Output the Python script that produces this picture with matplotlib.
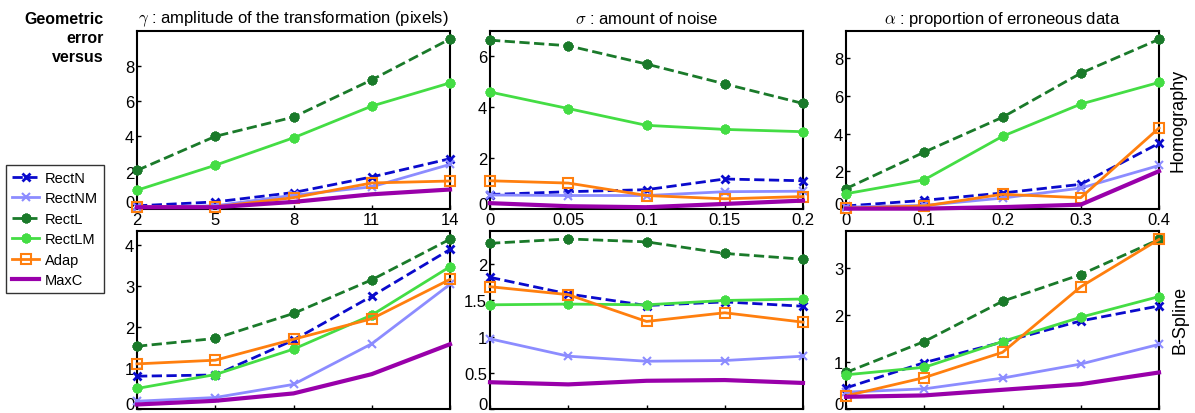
import matplotlib.pyplot as plt
import matplotlib
import numpy as np
from matplotlib.ticker import FormatStrFormatter

matplotlib.rcParams['font.family'] = ['Liberation Sans', 'DejaVu Sans']
matplotlib.rcParams['mathtext.fontset'] = 'cm'

# x values of the three studies
gamma = [2, 5, 8, 11, 14]
sigma = [0, 0.05, 0.1, 0.15, 0.2]
alpha = [0, 0.1, 0.2, 0.3, 0.4]

methods = ['RectN', 'RectNM', 'RectL', 'RectLM', 'Adap', 'MaxC']

# Homography (top row)
homo_gamma = {
    'RectN':  [0.08, 0.30, 0.83, 1.71, 2.74],
    'RectNM': [0.02, 0.08, 0.68, 1.15, 2.42],
    'RectL':  [2.08, 4.00, 5.09, 7.19, 9.50],
    'RectLM': [0.96, 2.37, 3.92, 5.71, 7.02],
    'Adap':   [0.02, 0.02, 0.54, 1.37, 1.48],
    'MaxC':   [0.00, 0.00, 0.30, 0.73, 1.00],
}
homo_sigma = {
    'RectN':  [0.57, 0.68, 0.76, 1.18, 1.11],
    'RectNM': [0.55, 0.53, 0.53, 0.68, 0.70],
    'RectL':  [6.64, 6.42, 5.70, 4.92, 4.15],
    'RectLM': [4.60, 3.95, 3.29, 3.13, 3.04],
    'Adap':   [1.11, 1.02, 0.53, 0.40, 0.49],
    'MaxC':   [0.23, 0.11, 0.07, 0.20, 0.33],
}
homo_alpha = {
    'RectN':  [0.16, 0.46, 0.85, 1.31, 3.49],
    'RectNM': [0.10, 0.19, 0.58, 1.11, 2.31],
    'RectL':  [1.08, 3.02, 4.87, 7.21, 9.01],
    'RectLM': [0.81, 1.55, 3.86, 5.57, 6.72],
    'Adap':   [0.05, 0.16, 0.78, 0.60, 4.30],
    'MaxC':   [0.02, 0.02, 0.10, 0.23, 2.01],
}

# B-Spline (bottom row)
bspl_gamma = {
    'RectN':  [0.80, 0.83, 1.68, 2.75, 3.89],
    'RectNM': [0.19, 0.28, 0.60, 1.59, 3.04],
    'RectL':  [1.53, 1.72, 2.33, 3.15, 4.14],
    'RectLM': [0.50, 0.84, 1.46, 2.29, 3.47],
    'Adap':   [1.10, 1.19, 1.70, 2.20, 3.16],
    'MaxC':   [0.11, 0.20, 0.38, 0.85, 1.58],
}
bspl_sigma = {
    'RectN':  [1.82, 1.59, 1.43, 1.48, 1.42],
    'RectNM': [0.97, 0.73, 0.66, 0.67, 0.73],
    'RectL':  [2.29, 2.35, 2.31, 2.15, 2.07],
    'RectLM': [1.44, 1.45, 1.44, 1.50, 1.52],
    'Adap':   [1.69, 1.58, 1.21, 1.33, 1.20],
    'MaxC':   [0.37, 0.34, 0.39, 0.40, 0.36],
}
bspl_alpha = {
    'RectN':  [0.45, 0.99, 1.43, 1.88, 2.20],
    'RectNM': [0.36, 0.43, 0.66, 0.96, 1.38],
    'RectL':  [0.78, 1.44, 2.30, 2.87, 3.62],
    'RectLM': [0.73, 0.89, 1.44, 1.96, 2.40],
    'Adap':   [0.28, 0.67, 1.21, 2.61, 3.62],
    'MaxC':   [0.26, 0.29, 0.41, 0.53, 0.78],
}

asterisk = (8, 2, 0)
styles = {
    'RectN':  dict(color='#0a0acc', ls='--', lw=2, marker='x', ms=6, mew=2),
    'RectNM': dict(color='#8c8cff', ls='-', lw=2, marker='x', ms=6, mew=1.5),
    'RectL':  dict(color='#1a7a2a', ls='--', lw=2, marker=asterisk, ms=7, mew=2.2),
    'RectLM': dict(color='#44dd44', ls='-', lw=2, marker=asterisk, ms=7, mew=2.2),
    'Adap':   dict(color='#ff7f0e', ls='-', lw=2, marker='s', ms=7, mew=1.5, mfc='none'),
    'MaxC':   dict(color='#9900aa', ls='-', lw=3),
}

fig = plt.figure(figsize=(11.95, 4.14), dpi=100)

lefts = [137/1195, 490/1195, 846/1195]
w = 313/1195
h = 178/414
bottoms = [1 - 210/414, 1 - 410/414]

panels = [
    [(gamma, homo_gamma), (sigma, homo_sigma), (alpha, homo_alpha)],
    [(gamma, bspl_gamma), (sigma, bspl_sigma), (alpha, bspl_alpha)],
]
ylims = [[(-0.1, 9.95), (0, 7.0), (0, 9.45)],
         [(0, 4.34), (0, 2.46), (0.02, 3.8)]]
yticks = [[[0, 2, 4, 6, 8], [0, 2, 4, 6], [0, 2, 4, 6, 8]],
          [[0, 1, 2, 3, 4], [0, 0.5, 1, 1.5, 2], [0, 1, 2, 3]]]
titles = [r'$\gamma$ : amplitude of the transformation (pixels)',
          r'$\sigma$ : amount of noise',
          r'$\alpha$ : proportion of erroneous data']

handles = {}
for r in range(2):
    for c in range(3):
        ax = fig.add_axes([lefts[c], bottoms[r], w, h])
        xs, data = panels[r][c]
        for m in methods:
            line, = ax.plot(xs, data[m], clip_on=False, zorder=3, **styles[m])
            handles[m] = line
        ax.set_xlim(xs[0], xs[-1])
        ax.set_ylim(*ylims[r][c])
        ax.set_xticks(xs)
        ax.set_yticks(yticks[r][c])
        ax.yaxis.set_major_formatter(FormatStrFormatter('%g'))
        ax.xaxis.set_major_formatter(FormatStrFormatter('%g'))
        ax.tick_params(labelsize=12, direction='in', length=3, width=1, pad=2)
        if r == 1:
            ax.tick_params(axis='x', labelbottom=False)
        # lift the "0" label a little so it stays inside the frame
        ax.yaxis.get_major_ticks()[0].label1.set_va('baseline')
        for s in ax.spines.values():
            s.set_linewidth(1.5)
        if r == 0:
            ax.set_title(titles[c], fontsize=12, pad=6)

fig.text(1178/1195, 1 - 120/414, 'Homography', rotation=90, fontsize=13,
         ha='center', va='center')
fig.text(1180/1195, 1 - 320/414, 'B-Spline', rotation=90, fontsize=13,
         ha='center', va='center')

fig.text(104/1195, 1 - 12/414, 'Geometric\nerror\nversus', fontsize=11.5,
         fontweight='bold', ha='right', va='top', linespacing=1.35)

leg = fig.legend([handles[m] for m in methods], methods,
                 loc='upper left', bbox_to_anchor=(0/1195, 1 - 160/414),
                 fontsize=10.5, frameon=True, fancybox=False, edgecolor='black',
                 handlelength=1.9, borderpad=0.4, labelspacing=0.45,
                 handletextpad=0.4, borderaxespad=0.4)
leg.get_frame().set_linewidth(1)

plt.savefig('out.png', dpi=100)
